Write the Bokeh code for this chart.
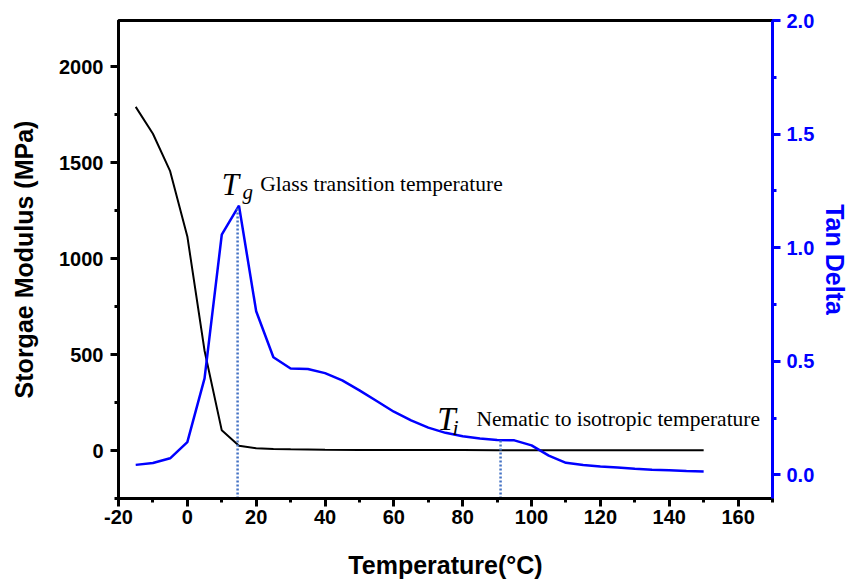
from bokeh.plotting import figure
from bokeh.models import Range1d, LinearAxis, SingleIntervalTicker, NumeralTickFormatter, Label
from bokeh.embed import file_html
from bokeh.resources import INLINE

# ---- data ----
temp_modulus = [-15, -10, -5, 0, 5, 10, 15, 20, 25, 30, 40, 50, 60, 70, 80, 90, 100, 110, 120, 130, 140, 150]
storage_modulus = [1790, 1650, 1455, 1115, 520, 105, 25, 12, 8, 6, 4, 3, 2, 2, 2, 1, 1, 1, 1, 1, 1, 1]

temp_tan = [-15, -10, -5, 0, 5, 10, 15, 20, 25, 30, 35, 40, 45, 50, 55, 60, 65, 70, 75, 80,
            85, 90, 95, 100, 105, 110, 115, 120, 125, 130, 135, 140, 145, 150]
tan_delta = [0.044, 0.052, 0.073, 0.144, 0.425, 1.057, 1.185, 0.72, 0.518, 0.468, 0.466, 0.448,
             0.416, 0.372, 0.325, 0.278, 0.240, 0.208, 0.185, 0.170, 0.160, 0.154, 0.152, 0.130,
             0.085, 0.053, 0.043, 0.037, 0.032, 0.027, 0.023, 0.020, 0.017, 0.015]

transition_temp = [14.6, 91.0]
transition_tan = [1.18, 0.155]

x_ticks_interval = 20
left_ticks_interval = 500
right_ticks_interval = 0.5

x_label = "Temperature(°C)"
left_label = "Storgae Modulus (MPa)"
right_label = "Tan Delta"

BLUE = "#0000FF"
SANS = "Liberation Sans"
SERIF = "Liberation Serif"

tan_min = -0.104
p = figure(width=853, height=584, x_range=Range1d(-20, 170), y_range=Range1d(-250, 2240),
           output_backend="svg", toolbar_location=None,
           min_border_left=118, min_border_right=81, min_border_top=20, min_border_bottom=86)
p.extra_y_ranges = {"tan": Range1d(tan_min, 2.0)}
p.grid.visible = False
p.outline_line_color = "black"
p.outline_line_width = 3
p.background_fill_color = "white"
p.border_fill_color = "white"


def style_axis(ax, color, standoff, label, label_standoff):
    ax.axis_line_color = color
    ax.axis_line_width = 3
    ax.major_tick_line_color = color
    ax.minor_tick_line_color = color
    ax.major_tick_line_width = 3
    ax.minor_tick_line_width = 3
    ax.major_tick_in = 0
    ax.major_tick_out = 8
    ax.minor_tick_in = 0
    ax.minor_tick_out = 4
    ax.major_label_text_font = SANS
    ax.major_label_text_font_style = "bold"
    ax.major_label_text_font_size = "20px"
    ax.major_label_text_color = color
    ax.major_label_standoff = standoff
    ax.axis_label = label
    ax.axis_label_text_font = SANS
    ax.axis_label_text_font_style = "bold"
    ax.axis_label_text_font_size = "25px"
    ax.axis_label_text_color = color
    ax.axis_label_standoff = label_standoff


xax = p.xaxis[0]
xax.ticker = SingleIntervalTicker(interval=x_ticks_interval, num_minor_ticks=2)
xax.formatter = NumeralTickFormatter(format="0")
style_axis(xax, "black", 3, x_label, 24)

yax = p.yaxis[0]
yax.ticker = SingleIntervalTicker(interval=left_ticks_interval, num_minor_ticks=2)
yax.formatter = NumeralTickFormatter(format="0")
style_axis(yax, "black", 7, left_label, 18)

rax = LinearAxis(y_range_name="tan",
                 ticker=SingleIntervalTicker(interval=right_ticks_interval, num_minor_ticks=2),
                 formatter=NumeralTickFormatter(format="0.0"))
style_axis(rax, BLUE, 6, right_label, 4)
p.add_layout(rax, "right")

# curves
p.line(temp_modulus, storage_modulus, line_color="black", line_width=2)
p.line(temp_tan, tan_delta, line_color=BLUE, line_width=2.5, y_range_name="tan")
p.segment(x0=transition_temp, y0=[tan_min] * len(transition_temp), x1=transition_temp,
          y1=transition_tan, line_color="#4472C4", line_width=2.5, line_dash="2 2",
          y_range_name="tan")

# annotations
def lab(x, y, text, font, size, style="normal", color="black"):
    p.add_layout(Label(x=x, y=y, text=text, text_font=font, text_font_size=size,
                       text_font_style=style, text_color=color,
                       text_align="left", text_baseline="alphabetic"))

lab(10.0, 1388, "T", SERIF, "31px", "italic")
lab(16.0, 1345, "g", SERIF, "21px", "italic")
lab(21.2, 1388, "Glass transition temperature", SERIF, "21.5px")
lab(72.6, 166, "T", SERIF, "33px", "italic")
lab(77.0, 118, "i", SERIF, "22px", "italic")
lab(84.0, 166, "Nematic to isotropic temperature", SERIF, "21.5px")

open("out.html", "w").write(file_html(p, INLINE))
